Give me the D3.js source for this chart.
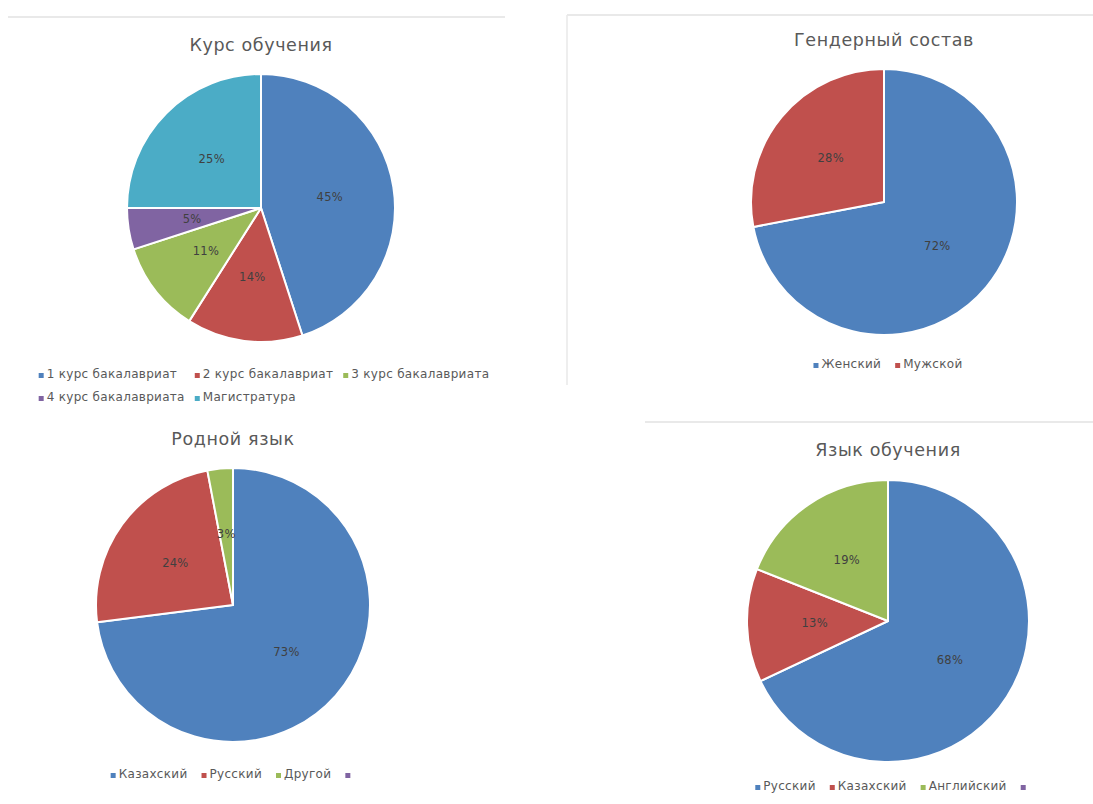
<!DOCTYPE html>
<html><head><meta charset="utf-8">
<script src="https://cdn.jsdelivr.net/npm/d3@7"></script>
<style>body{margin:0;background:#fff}svg{display:block}</style>
</head><body>
<svg id="c" width="1093" height="804"></svg>
<script>
const courseCategories = ["1 курс бакалавриат","2 курс бакалавриат","3 курс бакалавриата","4 курс бакалавриата","Магистратура"];
const courseValues = [45,14,11,5,25];
const genderCategories = ["Женский","Мужской"];
const genderValues = [72,28];
const nativeCategories = ["Казахский","Русский","Другой",""];
const nativeValues = [73,24,3,0];
const studyCategories = ["Русский","Казахский","Английский",""];
const studyValues = [68,13,19,0];
const titles = ["Курс обучения","Гендерный состав","Родной язык","Язык обучения"];

const palette = ["#4F81BD","#C0504D","#9BBB59","#8064A2","#4BACC6"];
const FONT = "DejaVu Sans, Verdana, sans-serif";
const svg = d3.select("#c");

// frame lines (chart area borders)
svg.append("line").attr("x1",8).attr("x2",505).attr("y1",17).attr("y2",17).attr("stroke","#e2e2e2").attr("stroke-width",1.5);
svg.append("line").attr("x1",567).attr("x2",1093).attr("y1",15).attr("y2",15).attr("stroke","#e2e2e2").attr("stroke-width",1.5);
svg.append("line").attr("x1",567).attr("x2",567).attr("y1",15).attr("y2",385).attr("stroke","#e8e8e8").attr("stroke-width",1.5);
svg.append("line").attr("x1",645).attr("x2",1093).attr("y1",422).attr("y2",422).attr("stroke","#e2e2e2").attr("stroke-width",1.5);

function drawPie(cfg){
  const g = svg.append("g");
  g.append("text").attr("x",cfg.cx).attr("y",cfg.titleY).attr("text-anchor","middle")
    .attr("font-family",FONT).attr("font-size",17.5).attr("letter-spacing",0.6).attr("fill","#595959").text(cfg.title);
  const data = cfg.categories.map((c,i)=>({cat:c,value:cfg.values[i],color:palette[i]}));
  const pie = d3.pie().sort(null).value(d=>d.value);
  const arcs = pie(data);
  const arc = d3.arc().innerRadius(0).outerRadius(cfg.r);
  const labelArc = d3.arc().innerRadius(cfg.r*0.52).outerRadius(cfg.r*0.52);
  const pg = g.append("g").attr("transform",`translate(${cfg.cx},${cfg.cy})`);
  pg.selectAll("path").data(arcs.filter(a=>a.data.value>0)).join("path")
    .attr("d",arc).attr("fill",d=>d.data.color).attr("stroke","#fff").attr("stroke-width",2).attr("stroke-linejoin","round");
  pg.selectAll("text").data(arcs.filter(a=>a.data.value>0)).join("text")
    .attr("transform",d=>`translate(${labelArc.centroid(d)})`)
    .attr("text-anchor","middle").attr("dy","0.35em")
    .attr("font-family",FONT).attr("font-size",11.5).attr("letter-spacing",0.3).attr("fill","#404040")
    .text(d=>d.data.value+"%");
  // legend as grid
  const perRow = cfg.perRow || data.length;
  const lg = g.append("g");
  const items = data.map((d,i)=>{
    const it = lg.append("g");
    it.append("rect").attr("width",5).attr("height",5).attr("y",-5).attr("fill",d.color);
    const t = it.append("text").attr("x",8).attr("font-family",FONT)
      .attr("font-size",12).attr("letter-spacing",0.3).attr("fill","#595959").text(d.cat);
    return {g:it,w:8+(d.cat?t.node().getComputedTextLength():0),i};
  });
  const cols = Math.min(perRow,items.length);
  const colW = d3.range(cols).map(c=>d3.max(items.filter(it=>it.i%perRow===c),it=>it.w)+cfg.gap);
  const total = d3.sum(colW)-cfg.gap;
  const x0 = cfg.legendCx - total/2;
  items.forEach(it=>{
    const c = it.i%perRow, row = Math.floor(it.i/perRow);
    it.g.attr("transform",`translate(${x0+d3.sum(colW.slice(0,c))},${cfg.legendY+row*23})`);
  });
}

drawPie({title:titles[0],categories:courseCategories,values:courseValues,cx:261,cy:208,r:134,titleY:51,legendCx:264,legendY:378,perRow:3,gap:10});
drawPie({title:titles[1],categories:genderCategories,values:genderValues,cx:884,cy:202,r:133,titleY:46,legendCx:888,legendY:368,gap:14});
drawPie({title:titles[2],categories:nativeCategories,values:nativeValues,cx:233,cy:605,r:137,titleY:445,legendCx:232,legendY:778,gap:14});
drawPie({title:titles[3],categories:studyCategories,values:studyValues,cx:888,cy:621,r:141,titleY:456,legendCx:892,legendY:790,gap:14});
</script>
</body></html>
